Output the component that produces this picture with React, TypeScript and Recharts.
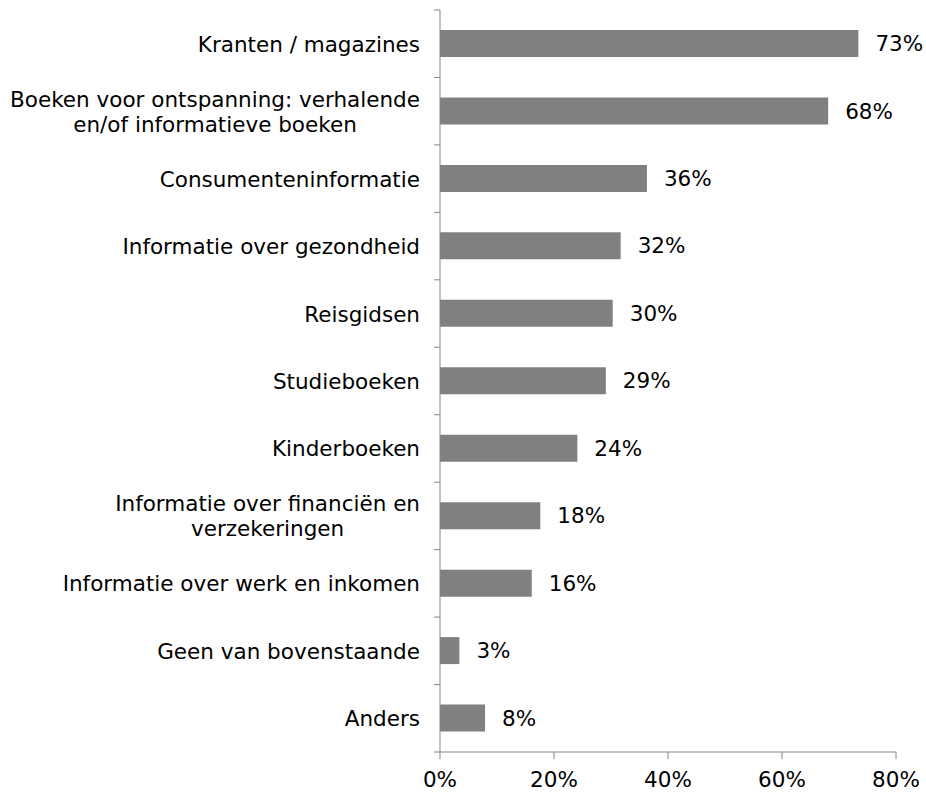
import { Bar, BarChart, LabelList, XAxis, YAxis } from "recharts";

const categories = [
  "Kranten / magazines",
  "Boeken voor ontspanning: verhalende\nen/of informatieve boeken",
  "Consumenteninformatie",
  "Informatie over gezondheid",
  "Reisgidsen",
  "Studieboeken",
  "Kinderboeken",
  "Informatie over financiën en\nverzekeringen",
  "Informatie over werk en inkomen",
  "Geen van bovenstaande",
  "Anders",
];
const shares = [73.4, 68.1, 36.3, 31.7, 30.3, 29.1, 24.1, 17.6, 16.1, 3.4, 7.9];
const xTicks = [0, 20, 40, 60, 80];

const data = categories.map((name, i) => ({ name, value: shares[i] }));

const FONT = "'DejaVu Sans', Verdana, sans-serif";
const FS = 21.5;
const W = 926;
const H = 793;
const TOP = 10;
const BOTTOM_AXIS = 41;
const BAND = (H - TOP - BOTTOM_AXIS) / categories.length;
const AXIS_X = 440;

let ctx: CanvasRenderingContext2D | null = null;
function textWidth(s: string) {
  if (!ctx) ctx = document.createElement("canvas").getContext("2d");
  if (!ctx) return s.length * FS * 0.6;
  ctx.font = `${FS}px 'DejaVu Sans'`;
  return ctx.measureText(s).width;
}

function CategoryTick(props: any) {
  const { y, payload, index } = props;
  const lines = String(payload.value).split("\n");
  const lh = 25;
  const start = y - ((lines.length - 1) * lh) / 2;
  const right = AXIS_X - 20;
  const widest = Math.max(...lines.map(textWidth));
  const cx = right - widest / 2;
  return (
    <g>
      <line x1={AXIS_X - 6} x2={AXIS_X} y1={y - BAND / 2} y2={y - BAND / 2} stroke="#868686" />
      {index === categories.length - 1 && (
        <line x1={AXIS_X - 6} x2={AXIS_X} y1={y + BAND / 2} y2={y + BAND / 2} stroke="#868686" />
      )}
      <text
        x={lines.length > 1 ? cx : right}
        y={start}
        textAnchor={lines.length > 1 ? "middle" : "end"}
        dominantBaseline="central"
        fontFamily={FONT}
        fontSize={FS}
        fill="#000"
      >
        {lines.map((l, i) => (
          <tspan key={i} x={lines.length > 1 ? cx : right} y={start + i * lh}>
            {l}
          </tspan>
        ))}
      </text>
    </g>
  );
}

export default function App() {
  return (
    <div style={{ position: "absolute", left: 0, top: 0, background: "#fff" }}>
      <BarChart
        width={W}
        height={H}
        data={data}
        layout="vertical"
        margin={{ top: TOP, right: 30, bottom: 0, left: 0 }}
      >
        <XAxis
          type="number"
          domain={[0, 80]}
          ticks={xTicks}
          tickFormatter={(v) => `${v}%`}
          height={BOTTOM_AXIS}
          stroke="#868686"
          tickSize={7}
          tickMargin={13}
          tick={{ fontSize: FS, fontFamily: FONT, fill: "#000" }}
        />
        <YAxis
          type="category"
          dataKey="name"
          width={AXIS_X}
          stroke="#868686"
          tickLine={false}
          tick={<CategoryTick />}
          interval={0}
        />
        <Bar dataKey="value" fill="#808080" barSize={27} isAnimationActive={false}>
          <LabelList
            dataKey="value"
            position="right"
            offset={17}
            formatter={(v: any) => `${Math.round(Number(v))}%`}
            style={{ fontSize: FS, fontFamily: FONT, fill: "#000" }}
          />
        </Bar>
      </BarChart>
    </div>
  );
}
